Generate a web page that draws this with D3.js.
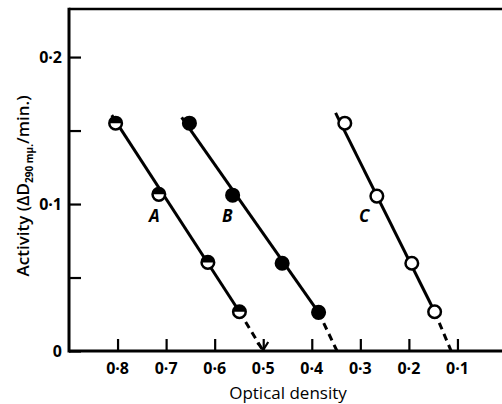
<!DOCTYPE html>
<html>
<head>
<meta charset="utf-8">
<script src="https://cdn.jsdelivr.net/npm/d3@7"></script>
<style>
  body { margin: 0; background: #fff; }
  svg { display: block; font-family: 'Open Sans', 'Lato', sans-serif; }
</style>
</head>
<body>
<svg id="chart" width="502" height="404"></svg>
<script>
// data: optical density (x) vs activity (y)
const seriesNames = ["A", "B", "C"]
const odA = [0.804, 0.715, 0.614, 0.549]
const actA = [0.155, 0.1066, 0.0603, 0.0267]
const odB = [0.652, 0.563, 0.461, 0.386]
const actB = [0.155, 0.106, 0.0597, 0.0263]
const odC = [0.332, 0.266, 0.194, 0.147]
const actC = [0.155, 0.1054, 0.0597, 0.0267]
// start of the drawn line (a little above the first point) and x-intercept of the dashed part
const lineStartOd = [0.812, 0.668, 0.351]
const lineStartAct = [0.1605, 0.159, 0.162]
const interceptOd = [0.5, 0.348, 0.113]
const labelOd = [0.724, 0.574, 0.292]
const labelAct = [0.0875, 0.0875, 0.0875]

const xTicks = [0.8, 0.7, 0.6, 0.5, 0.4, 0.3, 0.2, 0.1]
const yTicks = [0, 0.05, 0.1, 0.15, 0.2]
const yLabelled = [0, 0.1, 0.2]

const fmt = d => d === 0 ? "0" : d3.format(".1f")(d).replace(".", "·")

const svg = d3.select("#chart")
const x = d3.scaleLinear().domain([0.9, 0]).range([69, 506])
const y = d3.scaleLinear().domain([0, 0.2327]).range([351, 9])

const series = seriesNames.map((name, i) => {
    const od = [odA, odB, odC][i]
    const act = [actA, actB, actC][i]
    return {
        name,
        style: ["half", "filled", "open"][i],
        points: od.map((o, j) => ({ od: o, act: act[j] })),
        start: { od: lineStartOd[i], act: lineStartAct[i] },
        end: { od: interceptOd[i], act: 0 },
        label: { od: labelOd[i], act: labelAct[i] }
    }
})

// frame: left axis, top line, bottom axis
const g = svg.append("g")
g.append("line").attr("x1", x(0.9)).attr("x2", 502).attr("y1", y(0.2327)).attr("y2", y(0.2327))
    .attr("stroke", "#000").attr("stroke-width", 2.5)

const xAxis = d3.axisTop(x).tickValues(xTicks).tickSize(12).tickFormat("")
g.append("g").attr("transform", `translate(0,${y(0)})`).call(xAxis)
    .call(s => s.select(".domain").remove())
    .call(s => s.selectAll("line").attr("stroke-width", 2.2))
g.append("line").attr("x1", x(0.9)).attr("x2", 502).attr("y1", y(0)).attr("y2", y(0))
    .attr("stroke", "#000").attr("stroke-width", 3)

const yAxis = d3.axisRight(y).tickValues(yTicks).tickSize(12).tickFormat("")
g.append("g").attr("transform", `translate(${x(0.9)},0)`).call(yAxis)
    .call(s => s.select(".domain").remove())
    .call(s => s.selectAll("line").attr("stroke-width", 2.2))
g.append("line").attr("x1", x(0.9)).attr("x2", x(0.9)).attr("y1", y(0.2327) - 1.2).attr("y2", y(0) + 1.5)
    .attr("stroke", "#000").attr("stroke-width", 3)

// tick labels
g.selectAll(".xl").data(xTicks).join("text")
    .attr("x", d => x(d)).attr("y", y(0) + 23)
    .attr("text-anchor", "middle")
    .attr("font-size", 16).attr("font-weight", 700)
    .text(fmt)
g.selectAll(".yl").data(yLabelled).join("text")
    .attr("x", x(0.9) - 7).attr("y", d => y(d) + 6)
    .attr("text-anchor", "end")
    .attr("font-size", 16).attr("font-weight", 700)
    .text(fmt)

// axis titles
svg.append("text")
    .attr("x", 288).attr("y", 399)
    .attr("text-anchor", "middle")
    .attr("font-size", 17).attr("font-weight", 500)
    .text("Optical density")

const yt = svg.append("text")
    .attr("transform", "translate(29,186) rotate(-90)")
    .attr("text-anchor", "middle")
    .attr("font-size", 17).attr("font-weight", 600)
yt.append("tspan").text("Activity (ΔD")
yt.append("tspan").attr("font-size", 10).attr("dy", 4).attr("font-weight", 700).text("290 mμ.")
yt.append("tspan").attr("dy", -4).text("/min.)")

// lines
const line = d3.line().x(d => x(d.od)).y(d => y(d.act))
series.forEach(s => {
    const last = s.points[s.points.length - 1]
    svg.append("path")
        .datum([s.start, last])
        .attr("d", line)
        .attr("fill", "none").attr("stroke", "#000").attr("stroke-width", 3)
    svg.append("path")
        .datum([last, s.end])
        .attr("d", line)
        .attr("fill", "none").attr("stroke", "#000").attr("stroke-width", 3)
        .attr("stroke-dasharray", "7,5")
})

// small arrowhead at the end of A's dashed extension
{
    const s = series[0]
    const ex = x(s.end.od), ey = y(s.end.act)
    svg.append("path")
        .attr("d", `M${ex - 6},${ey - 8} L${ex},${ey - 1} L${ex + 5},${ey - 9}`)
        .attr("fill", "none").attr("stroke", "#000").attr("stroke-width", 2.2)
}

// markers
const r = 6.3
series.forEach(s => {
    const mg = svg.append("g")
    mg.selectAll("circle").data(s.points).join("circle")
        .attr("cx", d => x(d.od)).attr("cy", d => y(d.act)).attr("r", r)
        .attr("fill", s.style === "filled" ? "#000" : "#fff")
        .attr("stroke", "#000").attr("stroke-width", 2.5)
    if (s.style === "half") {
        const arc = d3.arc().innerRadius(0).outerRadius(r)
            .startAngle(-Math.PI / 2).endAngle(Math.PI / 2)
        mg.selectAll("path").data(s.points).join("path")
            .attr("transform", d => `translate(${x(d.od)},${y(d.act)})`)
            .attr("d", arc())
            .attr("fill", "#000")
    }
    svg.append("text")
        .attr("x", x(s.label.od)).attr("y", y(s.label.act))
        .attr("text-anchor", "middle")
        .attr("font-size", 17).attr("font-style", "italic").attr("font-weight", 700)
        .text(s.name)
})
</script>
</body>
</html>
